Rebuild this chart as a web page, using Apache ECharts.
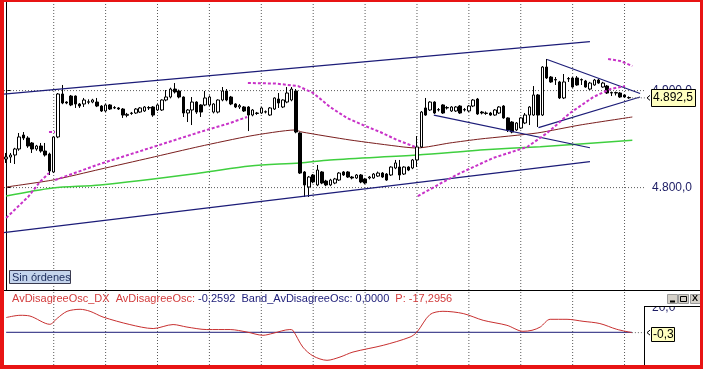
<!DOCTYPE html>
<html><head><meta charset="utf-8">
<script src="https://cdn.jsdelivr.net/npm/echarts@6/dist/echarts.min.js"></script>
<style>html,body{margin:0;padding:0;background:#fff}#c{width:703px;height:369px}</style>
</head><body><div id="c"></div>
<script>
// ---------- DATA ----------
const slotCount = 148;
// candles: [open, close, low, high]
const candles = [
[4829.5,4831.5,4825.4,4835.7],[4831.5,4833.6,4825.4,4835.7],[4833.6,4839.8,4824.3,4841.0],[4839.8,4852.2,4838.0,4856.3],
[4854.2,4851.1,4849.0,4857.3],[4851.1,4842.9,4841.0,4853.0],[4846.0,4839.8,4835.7,4847.0],[4839.8,4842.9,4838.0,4844.0],
[4842.9,4837.7,4836.0,4846.0],[4837.7,4833.6,4832.0,4846.0],[4834.6,4817.1,4813.0,4836.0],[4816.1,4852.2,4815.0,4853.0],
[4852.2,4896.5,4851.0,4897.5],[4896.5,4887.2,4886.0,4905.8],[4888.2,4887.2,4886.0,4889.0],[4894.4,4885.2,4884.0,4895.5],
[4894.4,4886.2,4882.1,4895.0],[4886.2,4884.1,4882.1,4887.2],[4886.2,4890.3,4883.1,4892.4],[4888.0,4888.5,4886.0,4891.0],
[4888.2,4890.3,4887.0,4891.5],[4888.2,4884.1,4883.0,4892.4],[4884.1,4879.0,4878.0,4885.0],[4879.0,4885.2,4878.0,4886.0],
[4885.2,4881.0,4880.0,4886.0],[4882.1,4882.6,4881.0,4884.0],[4882.1,4881.0,4880.0,4883.0],[4881.0,4874.8,4871.8,4882.0],
[4874.5,4875.5,4872.5,4877.0],[4876.4,4876.9,4875.0,4878.0],[4876.9,4881.0,4876.0,4882.0],[4877.9,4882.1,4877.0,4883.0],
[4879.0,4883.1,4878.0,4884.0],[4882.1,4882.6,4880.0,4884.0],[4883.1,4874.8,4873.0,4884.0],[4880.0,4885.2,4879.0,4886.0],
[4880.0,4890.3,4879.0,4891.0],[4890.3,4893.4,4889.0,4900.6],[4893.4,4901.6,4892.0,4903.0],[4901.6,4898.6,4897.0,4907.8],
[4899.6,4893.4,4892.0,4901.0],[4893.4,4876.9,4872.8,4894.0],[4876.9,4880.0,4867.6,4881.0],[4880.0,4888.2,4864.5,4893.4],
[4888.2,4877.9,4876.0,4889.0],[4885.2,4877.9,4872.8,4886.0],[4885.2,4892.4,4884.0,4899.6],[4885.2,4893.4,4884.0,4895.0],
[4877.9,4886.2,4876.5,4887.0],[4877.9,4890.3,4876.5,4891.0],[4890.3,4899.6,4889.0,4903.7],[4899.6,4890.3,4889.0,4901.6],
[4893.4,4886.2,4885.0,4894.5],[4886.2,4883.1,4882.0,4887.0],[4883.1,4884.5,4881.0,4886.2],[4883.1,4879.0,4878.0,4884.0],
[4883.1,4874.8,4858.3,4884.0],[4874.8,4880.0,4873.5,4881.0],[4876.4,4876.9,4875.0,4878.0],[4876.9,4882.1,4876.0,4883.0],
[4877.9,4878.2,4876.5,4879.5],[4874.8,4882.1,4874.0,4883.0],[4881.0,4892.4,4880.0,4893.0],[4891.3,4887.2,4882.1,4897.5],
[4883.1,4890.3,4882.0,4891.0],[4888.2,4897.5,4887.0,4903.7],[4890.3,4901.6,4889.0,4903.7],[4899.6,4857.3,4856.0,4901.6],
[4856.3,4815.0,4814.0,4857.0],[4816.1,4802.7,4790.3,4817.0],[4800.6,4810.9,4790.3,4812.0],[4813.0,4805.8,4804.5,4814.0],
[4802.7,4818.1,4801.5,4823.3],[4816.1,4804.7,4803.5,4817.0],[4806.8,4802.7,4801.5,4808.0],[4802.7,4807.8,4801.5,4809.0],
[4804.7,4808.9,4803.5,4810.0],[4807.8,4815.0,4806.8,4816.0],[4816.1,4813.0,4812.0,4817.0],[4816.1,4810.9,4810.0,4817.0],
[4810.9,4809.9,4808.5,4812.0],[4809.9,4813.0,4809.0,4814.0],[4813.0,4805.8,4804.5,4814.0],[4808.9,4804.7,4803.5,4810.0],
[4809.9,4810.9,4808.5,4812.0],[4809.9,4814.0,4809.0,4815.0],[4811.9,4815.0,4811.0,4816.5],[4815.0,4810.9,4810.0,4816.0],
[4814.0,4807.8,4807.0,4815.0],[4813.0,4821.2,4812.0,4822.0],[4820.2,4825.4,4819.0,4828.5],[4821.2,4813.0,4807.8,4828.5],
[4814.0,4821.2,4813.0,4822.0],[4821.2,4818.1,4817.0,4822.0],[4820.2,4828.5,4819.0,4829.5],[4828.5,4841.9,4821.2,4853.2],
[4841.9,4877.9,4841.0,4879.0],[4882.1,4874.8,4874.0,4892.4],[4880.0,4888.2,4879.0,4889.0],[4888.2,4876.9,4876.0,4889.0],
[4880.0,4880.5,4878.5,4882.0],[4885.2,4876.9,4876.0,4886.0],[4882.1,4882.6,4880.5,4884.0],[4879.0,4883.1,4878.0,4884.0],
[4879.0,4883.1,4878.0,4884.0],[4884.1,4876.9,4876.0,4885.0],[4880.0,4880.5,4878.5,4882.0],[4879.0,4884.1,4878.0,4885.0],
[4884.1,4890.3,4883.0,4891.3],[4891.3,4875.9,4875.0,4892.4],[4877.9,4876.9,4875.5,4879.0],[4876.4,4876.9,4875.0,4878.5],
[4876.9,4874.8,4874.0,4878.0],[4874.8,4880.0,4874.0,4881.0],[4876.9,4883.1,4876.0,4884.0],[4884.1,4871.8,4871.0,4885.0],
[4871.8,4859.4,4857.3,4872.5],[4867.6,4857.3,4856.0,4868.5],[4859.4,4866.6,4858.5,4867.5],[4861.4,4871.8,4860.5,4872.5],
[4866.6,4874.8,4865.5,4876.9],[4874.8,4883.1,4864.5,4884.0],[4874.8,4895.5,4874.0,4904.7],[4895.5,4874.8,4862.5,4896.5],
[4874.8,4924.3,4873.8,4925.3],[4924.3,4913.0,4912.0,4932.6],[4914.0,4908.9,4908.0,4915.0],[4911.4,4910.9,4905.8,4914.0],
[4908.9,4892.4,4891.3,4910.0],[4892.4,4908.9,4891.3,4917.1],[4912.0,4912.5,4908.9,4914.0],[4913.0,4903.7,4903.0,4914.0],
[4913.0,4905.8,4905.0,4915.0],[4910.9,4911.4,4905.8,4912.5],[4909.9,4903.7,4903.0,4911.0],[4901.6,4907.8,4900.6,4909.0],
[4905.8,4910.9,4905.0,4912.0],[4910.9,4907.8,4907.0,4912.0],[4903.7,4907.8,4903.0,4909.0],[4904.7,4897.5,4896.5,4905.8],
[4897.5,4898.0,4894.4,4899.0],[4897.5,4898.0,4895.0,4899.0],[4897.5,4893.4,4892.5,4898.5],[4895.5,4893.4,4892.5,4896.5],
[4892.9,4892.5,4891.5,4894.0]
];
const lastClose = 4892.5;
const priceTicks = [4800, 4900];
const gridBars = [11,23,35,47,59,71,83,95,107,119,131,143];
const priceMin = 4694.43, priceMax = 4991.34;
const oscMin = -26.16, oscMax = 32.24;

// trend lines [barIndex, price]
const channelUpper = [[-0.6,4896.3],[135.0,4950.4]];
const channelLower = [[-0.6,4753.5],[135.0,4826.7]];
const triangleUpper = [[125.1,4932.1],[146.6,4897.0]];
const triangleLower = [[123.1,4861.8],[146.6,4893.4]];
const wedgeLine = [[98.9,4874.8],[135.0,4841.1]];

// moving averages [barIndex, price]
const maBrown = [[0,4800.6],[10.8,4807.8],[21.7,4818.9],[33.3,4830.7],[44.8,4842.5],[56.4,4853.2],[66.8,4859.4],[68.4,4857.3],
 [79.5,4849.1],[91.8,4841.9],[95.0,4840.8],[102.6,4846.0],[109.6,4850.1],[122.8,4856.3],[132.7,4864.5],[144.8,4872.8]];
const maGreen = [[0,4791.3],[10.8,4799.6],[21.7,4802.7],[44.8,4815.0],[56.4,4822.3],[67.9,4825.4],[74.9,4828.5],
 [95.0,4833.6],[105.0,4837.0],[109.6,4838.8],[123.5,4842.2],[144.8,4848.9]];

// magenta dotted indicator segments [barIndex, price]
const magentaA = [[0,4768.7],[5.05,4790.3],[7.8,4805.8],[9.9,4815.0]];
const magentaB = [[9.9,4857.3],[11.3,4857.3]];
const magentaC = [[11.3,4807.8],[21.7,4824.4],[33.3,4840.9],[44.8,4857.3],[51.8,4866.6],[55.7,4872.8]];
const magentaD = [[55.9,4907.8],[62.2,4907.3],[67.5,4904.7],[71.0,4897.5],[74.9,4883.1],[78.8,4871.8],[82.5,4864.5],
 [86.5,4857.3],[90.4,4849.1],[94.6,4841.9]];
const magentaE = [[95.2,4791.3],[101.9,4807.8],[105.0,4815.0],[112.6,4830.5],[120.5,4841.9],[125.1,4856.3],[130.4,4876.9],
 [135.8,4893.4],[139.7,4901.6],[143.1,4904.7]];
const magentaF = [[139.2,4932.6],[142.0,4930.5],[144.8,4925.4]];

// lower oscillator [barIndex, value]
const osc = [[0,11.8],[3.2,13.6],[5.5,13.0],[10.1,6.4],[11.8,11.2],[14.1,16.8],[17.1,18.4],[19.4,16.8],[22.4,12.2],
 [28.6,6.2],[34.0,3.0],[38.6,6.2],[41.8,4.2],[46.4,2.2],[51.8,2.2],[55.7,0.2],[59.4,-2.4],[61.7,-0.8],[65.6,2.2],
 [66.3,1.6],[68.6,-11.8],[71.0,-19.0],[74.2,-22.4],[77.2,-19.8],[80.2,-15.8],[87.2,-10.4],[93.4,-3.8],[95.0,0.2],
 [98.0,14.2],[101.0,16.8],[105.7,15.0],[110.3,9.6],[115.8,5.6],[119.5,0.8],[121.6,1.6],[123.5,4.2],[125.8,10.4],
 [129.7,10.4],[133.4,8.8],[137.3,7.0],[141.2,2.4],[144.7,-0.26]];
const oscBand = [[0,0],[144.7,0]];
const oscLast = -0.2592;
const oscTopTick = 20;

// ---------- CHART ----------
function fmt(v, d){
  const s = Math.abs(v).toFixed(d).split('.');
  const int = s[0].replace(/\B(?=(\d{3})+(?!\d))/g,'.');
  return (v<0?'-':'') + int + (d?','+s[1]:'');
}
const slots = Array.from({length:slotCount},(_,i)=>String(i));
const NAVY = '#1c1c78';
const FONT = 'Liberation Sans, Arial, sans-serif';
const chart = echarts.init(document.getElementById('c'), null, {renderer:'canvas', width:703, height:369});

function ln(data, color, width, type, z, smooth, xi, yi){
  return {type:'line', xAxisIndex:xi||1, yAxisIndex:yi||0, data, symbol:'none', showSymbol:false, silent:true, smooth:smooth||false,
    lineStyle:{color, width, type:type||'solid'}, z:z||4, animation:false};
}
const GRIDC = '#5a5a5a';
const gridSeries = [
  ...gridBars.map(b=>ln([[b,priceMin],[b,priceMax]], GRIDC, 1, [1,2], 1)),
  ...priceTicks.map(p=>ln([[-0.5,p],[slotCount-0.5,p]], GRIDC, 1, [1,2], 1)),
  ...gridBars.map(b=>ln([[b,oscMin],[b,oscMax]], GRIDC, 1, [1,2], 1, false, 2, 1))
];

chart.setOption({
  animation:false,
  backgroundColor:'#ffffff',
  grid:[{left:4, top:2, width:640, height:288},{left:4, top:292, width:640, height:73}],
  xAxis:[
    {type:'category', gridIndex:0, data:slots, boundaryGap:true, show:false},
    {type:'value', gridIndex:0, min:-0.5, max:slotCount-0.5, show:false},
    {type:'value', gridIndex:1, min:-0.5, max:slotCount-0.5, show:false}
  ],
  yAxis:[
    {type:'value', gridIndex:0, position:'right', min:priceMin, max:priceMax,
     splitLine:{show:false},
     axisLine:{show:true, lineStyle:{color:'#000', width:1}},
     axisTick:{show:true, length:5, customValues:priceTicks, lineStyle:{color:'#000'}},
     axisLabel:{show:true, customValues:priceTicks, formatter:v=>fmt(v,1), color:'#1c1c64', fontFamily:FONT, fontSize:12, margin:8}},
    {type:'value', gridIndex:1, position:'right', min:oscMin, max:oscMax, show:false}
  ],
  series:[
    ...gridSeries,
    ln(maGreen, '#3fcf3f', 1.5, 'solid', 2, 0.3),
    ln(maBrown, '#7a1e1e', 1, 'solid', 2, 0.2),
    {type:'candlestick', xAxisIndex:0, yAxisIndex:0, data:candles, barWidth:3, silent:true, z:3,
     itemStyle:{color:'#ffffff', color0:'#000000', borderColor:'#000000', borderColor0:'#000000', borderWidth:1}},
    ln(channelUpper, NAVY, 1.2),
    ln(channelLower, NAVY, 1.2),
    ln(triangleUpper, NAVY, 1.2),
    ln(triangleLower, NAVY, 1.2),
    ln(wedgeLine, NAVY, 1.2),
    ...[magentaA,magentaB,magentaC,magentaD,magentaE,magentaF].map(d=>ln(d,'#c832c8',2,[3,2],5)),
    ln(oscBand, NAVY, 1, 'solid', 3, false, 2, 1),
    ln(osc, '#c83030', 1, 'solid', 4, 0.3, 2, 1)
  ]
});

const yLast = chart.convertToPixel({yAxisIndex:0}, lastClose);
const yOsc = chart.convertToPixel({yAxisIndex:1}, oscLast);
const yTop = chart.convertToPixel({yAxisIndex:1}, oscTopTick);
const xLastBar = chart.convertToPixel({xAxisIndex:1}, candles.length-1);
const RED = '#e81414';
const g = [];
g.push({type:'line', shape:{x1:xLastBar+3,y1:yLast,x2:646,y2:yLast}, style:{stroke:'#666', lineWidth:1, lineDash:[1,2]}, z:50});
g.push({type:'line', shape:{x1:xLastBar+3,y1:yOsc,x2:646,y2:yOsc}, style:{stroke:'#666', lineWidth:1, lineDash:[1,2]}, z:50});
g.push({type:'text', style:{x:652, y:yTop, text:fmt(oscTopTick,1), fill:'#1c1c64', font:'12px '+FONT, verticalAlign:'middle'}, z:50});
g.push({type:'rect', shape:{x:645, y:291, width:55, height:15}, style:{fill:'#fff'}, z:51});
g.push({type:'line', shape:{x1:644.5,y1:306,x2:644.5,y2:365}, style:{stroke:'#000', lineWidth:1}, z:52});
g.push({type:'line', shape:{x1:644,y1:306.5,x2:700,y2:306.5}, style:{stroke:'#000', lineWidth:1}, z:52});
g.push({type:'line', shape:{x1:4,y1:290.5,x2:700,y2:290.5}, style:{stroke:'#000', lineWidth:1}, z:52});
g.push({type:'polyline', shape:{points:[[650,yLast-2.5],[647,yLast],[650,yLast+2.5]]}, style:{stroke:'#000', lineWidth:1, fill:null}, z:53});
g.push({type:'rect', shape:{x:651.5, y:Math.round(yLast)-8.5, width:44, height:17}, style:{fill:'#ffffc0', stroke:'#000', lineWidth:1}, z:53});
g.push({type:'text', style:{x:653, y:Math.round(yLast), text:fmt(lastClose,1), fill:'#000', font:'12px '+FONT, verticalAlign:'middle'}, z:54});
g.push({type:'polyline', shape:{points:[[650,yOsc-2.5],[647,yOsc],[650,yOsc+2.5]]}, style:{stroke:'#000', lineWidth:1, fill:null}, z:53});
g.push({type:'rect', shape:{x:651.5, y:Math.round(yOsc)-5.5, width:23, height:14}, style:{fill:'#ffffc0', stroke:'#000', lineWidth:1}, z:53});
g.push({type:'text', style:{x:653, y:Math.round(yOsc)+1.5, text:fmt(oscLast,1), fill:'#000', font:'12px '+FONT, verticalAlign:'middle'}, z:54});
[[667,'min'],[678,'max'],[690,'close']].forEach(([x,k])=>{
  g.push({type:'rect', shape:{x:x+0.5,y:294.5,width:10,height:9}, style:{fill:'#d4d0c8', stroke:'#9a9a9a', lineWidth:1}, z:55});
  if(k==='min') g.push({type:'line', shape:{x1:x+3,y1:301.5,x2:x+8,y2:301.5}, style:{stroke:'#000', lineWidth:2}, z:56});
  if(k==='max') g.push({type:'rect', shape:{x:x+2.5,y:296.5,width:6,height:5}, style:{fill:null, stroke:'#000', lineWidth:1}, z:56});
  if(k==='close') g.push({type:'text', style:{x:x+2, y:299, text:'X', fill:'#000', font:'bold 9px '+FONT, verticalAlign:'middle'}, z:56});
});
g.push({type:'rect', shape:{x:9.5,y:270.5,width:61,height:13}, style:{fill:'#c4d4ec', stroke:'#3c3c50', lineWidth:1}, z:55});
g.push({type:'text', style:{x:12, y:277.5, text:'Sin órdenes', fill:'#1a2a5a', font:'11px '+FONT, verticalAlign:'middle'}, z:56});
g.push({type:'text', style:{x:12, y:298.5, verticalAlign:'middle', font:'11px '+FONT,
  text:'{r|AvDisagreeOsc_DX}  {r|AvDisagreeOsc:} {b|-0,2592}  {b|Band_AvDisagreeOsc: 0,0000}  {r|P: -17,2956}',
  rich:{r:{fill:'#d23c3c', font:'11px '+FONT}, b:{fill:'#1c1c78', font:'11px '+FONT}}}, z:56});
g.push({type:'rect', shape:{x:0,y:0,width:4,height:369}, style:{fill:RED}, z:60});
g.push({type:'rect', shape:{x:0,y:0,width:703,height:2}, style:{fill:RED}, z:60});
g.push({type:'rect', shape:{x:700,y:0,width:3,height:369}, style:{fill:RED}, z:60});
g.push({type:'rect', shape:{x:0,y:365,width:703,height:4}, style:{fill:RED}, z:60});
chart.setOption({graphic:g});
</script>
</body></html>
